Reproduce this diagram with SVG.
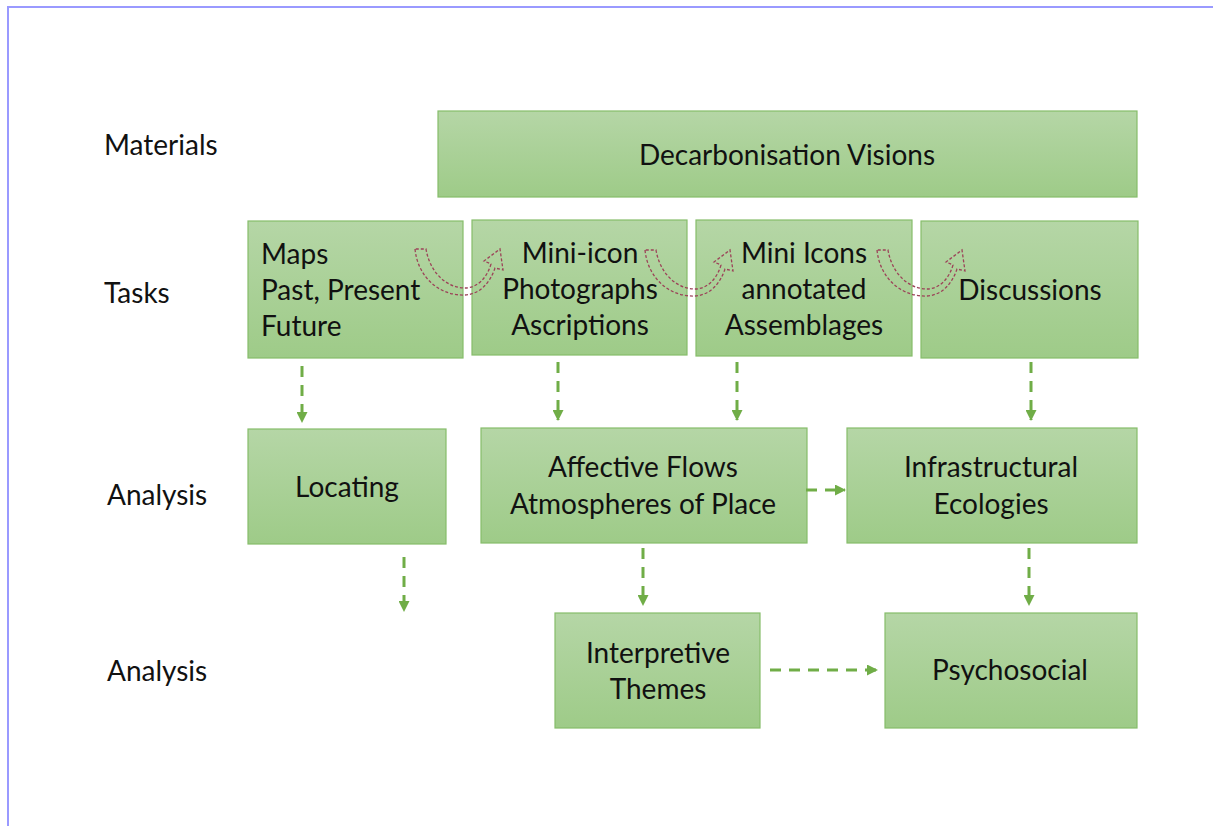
<svg xmlns="http://www.w3.org/2000/svg" width="1213" height="826" viewBox="0 0 1213 826">
<style>
.box{fill:url(#g);stroke:#86bd6a;stroke-width:1.2}
.t{font-family:Lato,"Liberation Sans",sans-serif;font-size:28px;fill:#111;text-anchor:middle}
.l{font-family:Lato,"Liberation Sans",sans-serif;font-size:28px;fill:#111}
.c{fill:none;stroke:#70ad47;stroke-width:3;stroke-dasharray:11 8;marker-end:url(#ah)}
.u{fill:none;stroke:#9c4258;stroke-width:1.3;stroke-dasharray:3 2}
</style>
<defs>
<linearGradient id="g" x1="0" y1="0" x2="0" y2="1">
<stop offset="0" stop-color="#b5d6a6"/>
<stop offset="1" stop-color="#9ecb88"/>
</linearGradient>
<marker id="ah" markerUnits="userSpaceOnUse" markerWidth="11" markerHeight="11" refX="10" refY="5.5" orient="auto">
<path d="M0,0 L11,5.5 L0,11 z" fill="#70ad47"/>
</marker>
</defs>
<rect x="8" y="7" width="1300" height="900" fill="none" stroke="#9a9aff" stroke-width="2"/>
<g id="labels">
<text class="l" x="104" y="155">Materials</text>
<text class="l" x="104" y="303">Tasks</text>
<text class="l" x="107" y="505">Analysis</text>
<text class="l" x="107" y="681">Analysis</text>
</g>
<g id="n-decarb"><rect class="box" x="438" y="111" width="699" height="86"/><text class="t" x="787" y="165">Decarbonisation Visions</text></g>
<g id="n-maps"><rect class="box" x="248" y="221" width="215" height="137"/><text class="l" x="261" y="264">Maps</text><text class="l" x="261" y="300">Past, Present</text><text class="l" x="261" y="336">Future</text></g>
<g id="n-miniicon"><rect class="box" x="472" y="220" width="215" height="135"/><text class="t" x="580" y="263">Mini-icon</text><text class="t" x="580" y="299">Photographs</text><text class="t" x="580" y="335">Ascriptions</text></g>
<g id="n-miniicons"><rect class="box" x="696" y="220" width="216" height="136"/><text class="t" x="804" y="263">Mini Icons</text><text class="t" x="804" y="299">annotated</text><text class="t" x="804" y="335">Assemblages</text></g>
<g id="n-discussions"><rect class="box" x="921" y="221" width="217" height="137"/><text class="t" x="1030" y="300">Discussions</text></g>
<g id="n-locating"><rect class="box" x="248" y="429" width="198" height="115"/><text class="t" x="347" y="497">Locating</text></g>
<g id="n-affective"><rect class="box" x="481" y="428" width="326" height="115"/><text class="t" x="643" y="477">Affective Flows</text><text class="t" x="643" y="514">Atmospheres of Place</text></g>
<g id="n-infra"><rect class="box" x="847" y="428" width="290" height="115"/><text class="t" x="991" y="477">Infrastructural</text><text class="t" x="991" y="514">Ecologies</text></g>
<g id="n-interp"><rect class="box" x="555" y="613" width="205" height="115"/><text class="t" x="658" y="663">Interpretive</text><text class="t" x="658" y="699">Themes</text></g>
<g id="n-psycho"><rect class="box" x="885" y="613" width="252" height="115"/><text class="t" x="1010" y="680">Psychosocial</text></g>
<g id="connectors">
<line class="c" x1="302" y1="366" x2="302" y2="422"/>
<line class="c" x1="558" y1="362" x2="558" y2="420"/>
<line class="c" x1="737" y1="362" x2="737" y2="420"/>
<line class="c" x1="1031" y1="362" x2="1031" y2="420"/>
<line class="c" x1="404" y1="557" x2="404" y2="611"/>
<line class="c" x1="643" y1="548" x2="643" y2="605"/>
<line class="c" x1="1029" y1="548" x2="1029" y2="605"/>
<line class="c" x1="806" y1="490" x2="845" y2="490"/>
<line class="c" x1="770" y1="670" x2="877" y2="670"/>
<path id="uarrow" class="u" d="M415,249 C418,278 440,296 465,295 C480,294 490,283 495,268 L503,270 L500,249 L484,261 L491,264 C487,278 477,288 465,288 C447,288 430,273 426,249 Z"/>
<use href="#uarrow" transform="translate(230,1)"/>
<use href="#uarrow" transform="translate(462,1)"/>
</g>
</svg>
